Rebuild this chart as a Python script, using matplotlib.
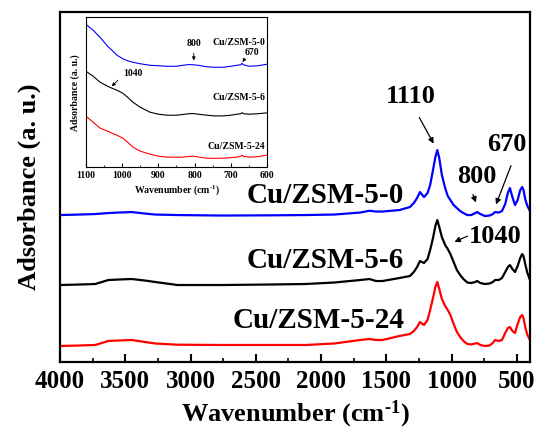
import numpy as np
import matplotlib
matplotlib.use("Agg")
import matplotlib.pyplot as plt
import matplotlib.ticker as ticker

plt.rcParams['font.family'] = ['Liberation Serif', 'DejaVu Serif']
plt.rcParams['font.weight'] = 'bold'
plt.rcParams['axes.labelweight'] = 'bold'
plt.rcParams['mathtext.fontset'] = 'custom'
plt.rcParams['mathtext.rm'] = 'Liberation Serif:bold'
plt.rcParams['mathtext.it'] = 'Liberation Serif:bold'
plt.rcParams['mathtext.bf'] = 'Liberation Serif:bold'

# FTIR spectra, stacked (full range)
wn = [4000, 3850, 3730, 3630, 3550, 3450, 3350, 3270, 3100, 2760, 2400, 2120, 1900, 1700,
      1630, 1580, 1530, 1400, 1320, 1290, 1265, 1243, 1212, 1185, 1165, 1143, 1125, 1110,
      1095, 1075, 1050, 1030, 1010, 985, 960, 935, 910, 880, 850, 820, 805, 780, 745, 710,
      685, 668, 640, 615, 590, 570, 554, 535, 515, 495, 475, 460, 450, 435, 420, 400]
abs_0 = [1.47, 1.475, 1.48, 1.49, 1.495, 1.50, 1.485, 1.475, 1.47, 1.465, 1.467, 1.47, 1.475, 1.495,
         1.513, 1.505, 1.505, 1.52, 1.55, 1.59, 1.64, 1.70, 1.65, 1.69, 1.77, 1.92, 2.05, 2.12,
         2.04, 1.87, 1.74, 1.66, 1.62, 1.57, 1.54, 1.51, 1.49, 1.47, 1.47, 1.49, 1.50, 1.48, 1.46, 1.465,
         1.48, 1.50, 1.495, 1.51, 1.58, 1.69, 1.74, 1.65, 1.57, 1.62, 1.72, 1.75, 1.72, 1.62, 1.56, 1.51]
abs_6 = [0.77, 0.775, 0.78, 0.82, 0.825, 0.83, 0.815, 0.80, 0.77, 0.77, 0.775, 0.78, 0.795, 0.82,
         0.83, 0.81, 0.81, 0.84, 0.86, 0.90, 0.95, 1.01, 0.99, 1.03, 1.12, 1.24, 1.36, 1.42,
         1.35, 1.25, 1.17, 1.13, 1.08, 1.00, 0.92, 0.87, 0.83, 0.795, 0.79, 0.80, 0.81, 0.79, 0.78, 0.785,
         0.80, 0.82, 0.82, 0.84, 0.90, 0.95, 0.97, 0.93, 0.90, 0.96, 1.04, 1.08, 1.06, 0.97, 0.89, 0.82]
abs_24 = [0.16, 0.165, 0.17, 0.21, 0.215, 0.22, 0.20, 0.185, 0.173, 0.17, 0.17, 0.17, 0.185, 0.22,
          0.23, 0.22, 0.22, 0.26, 0.28, 0.31, 0.35, 0.40, 0.37, 0.42, 0.52, 0.64, 0.75, 0.80,
          0.73, 0.63, 0.56, 0.52, 0.47, 0.38, 0.30, 0.25, 0.21, 0.18, 0.175, 0.185, 0.19, 0.17, 0.16, 0.165,
          0.19, 0.22, 0.21, 0.22, 0.29, 0.34, 0.35, 0.31, 0.29, 0.38, 0.45, 0.47, 0.44, 0.34, 0.27, 0.22]

# zoomed region 1100-600
wn_in = [1100, 1080, 1061, 1040, 1028, 1014, 998, 985, 970, 950, 923, 900, 876, 850, 832,
         815, 804, 790, 766, 745, 721, 700, 683, 672, 669, 665, 648, 625, 600]
abs_in_0 = [1.43, 1.37, 1.30, 1.21, 1.17, 1.12, 1.085, 1.065, 1.05, 1.035, 1.02, 1.015, 1.01, 1.01, 1.02,
            1.027, 1.025, 1.02, 1.005, 1.00, 1.00, 1.01, 1.02, 1.025, 1.04, 1.025, 1.01, 1.015, 1.03]
abs_in_6 = [0.96, 0.91, 0.85, 0.81, 0.79, 0.77, 0.74, 0.70, 0.65, 0.60, 0.55, 0.53, 0.52, 0.52, 0.527,
            0.535, 0.537, 0.53, 0.52, 0.513, 0.513, 0.52, 0.53, 0.535, 0.545, 0.535, 0.53, 0.535, 0.543]
abs_in_24 = [0.51, 0.45, 0.39, 0.36, 0.34, 0.32, 0.29, 0.25, 0.20, 0.16, 0.13, 0.11, 0.10, 0.10, 0.10,
             0.107, 0.11, 0.102, 0.09, 0.088, 0.09, 0.095, 0.10, 0.11, 0.12, 0.108, 0.10, 0.105, 0.12]

names = ['Cu/ZSM-5-0', 'Cu/ZSM-5-6', 'Cu/ZSM-5-24']
colors = ['#0000ff', '#000000', '#ff0000']
xlab = 'Wavenumber (cm$^{\\text{-1}}$)'
ylab = 'Adsorbance (a. u.)'

fig = plt.figure(figsize=(5.37, 4.33), dpi=100)
ax = fig.add_axes([0.1117, 0.164, 0.8753, 0.808])

for y, c in zip([abs_0, abs_6, abs_24], colors):
    ax.plot(wn, y, color=c, lw=1.6)

ax.set_xlim(4000, 400)
ax.set_ylim(0, 3.5)
ax.set_yticks([])
ax.xaxis.set_major_locator(ticker.MultipleLocator(500))
ax.xaxis.set_minor_locator(ticker.MultipleLocator(250))
ax.tick_params(axis='x', which='major', direction='in', length=6, width=1.5, labelsize=18, pad=6)
ax.tick_params(axis='x', which='minor', direction='in', length=3, width=1.2)
for s in ax.spines.values():
    s.set_linewidth(1.6)
ax.set_xlabel(xlab, fontsize=19, labelpad=4)
ax.set_ylabel(ylab, fontsize=19, labelpad=14)

for name, yy in zip(names, [1.67, 1.02, 0.42]):
    ax.text(1365, yy, name, fontsize=21, ha='right', va='center')

# peak markers
arw = dict(arrowstyle='-|>', color='k', lw=0.9, mutation_scale=8)
ax.annotate('', xy=(1128, 2.16), xytext=(1258, 2.47), arrowprops=arw)
ax.text(1312, 2.66, '1110', fontsize=19, ha='center', va='center')
ax.annotate('', xy=(806, 1.57), xytext=(845, 1.70), arrowprops=arw)
ax.text(806, 1.86, '800', fontsize=19, ha='center', va='center')
ax.annotate('', xy=(668, 1.55), xytext=(538, 1.99), arrowprops=arw)
ax.text(577, 2.18, '670', fontsize=19, ha='center', va='center')
ax.annotate('', xy=(998, 1.19), xytext=(860, 1.27), arrowprops=arw)
ax.text(668, 1.26, '1040', fontsize=19, ha='center', va='center')

# inset
axi = fig.add_axes([0.160, 0.614, 0.337, 0.346])
for y, c in zip([abs_in_0, abs_in_6, abs_in_24], colors):
    axi.plot(wn_in, y, color=c, lw=0.8)
axi.set_xlim(1100, 600)
axi.set_ylim(0, 1.5)
axi.set_yticks([])
axi.xaxis.set_major_locator(ticker.MultipleLocator(100))
axi.xaxis.set_minor_locator(ticker.MultipleLocator(50))
axi.tick_params(axis='x', which='major', direction='in', length=3, width=0.8, labelsize=7, pad=3)
axi.tick_params(axis='x', which='minor', direction='in', length=1.5, width=0.6)
for s in axi.spines.values():
    s.set_linewidth(0.8)
axi.set_xlabel(xlab, fontsize=7, labelpad=2)
axi.set_ylabel(ylab, fontsize=7, labelpad=4)

for name, yy in zip(names, [1.25, 0.70, 0.21]):
    axi.text(605, yy, name, fontsize=7, ha='right', va='center')

arw_s = dict(arrowstyle='-|>', color='k', lw=0.6, mutation_scale=5)
axi.annotate('', xy=(802, 1.04), xytext=(802, 1.17), arrowprops=arw_s)
axi.text(802, 1.24, '800', fontsize=7, ha='center', va='center')
axi.annotate('', xy=(672, 1.03), xytext=(658, 1.10), arrowprops=arw_s)
axi.text(641, 1.15, '670', fontsize=7, ha='center', va='center')
axi.annotate('', xy=(1034, 0.79), xytext=(1006, 0.89), arrowprops=arw_s)
axi.text(970, 0.94, '1040', fontsize=7, ha='center', va='center')

fig.savefig('out.png', dpi=100)
